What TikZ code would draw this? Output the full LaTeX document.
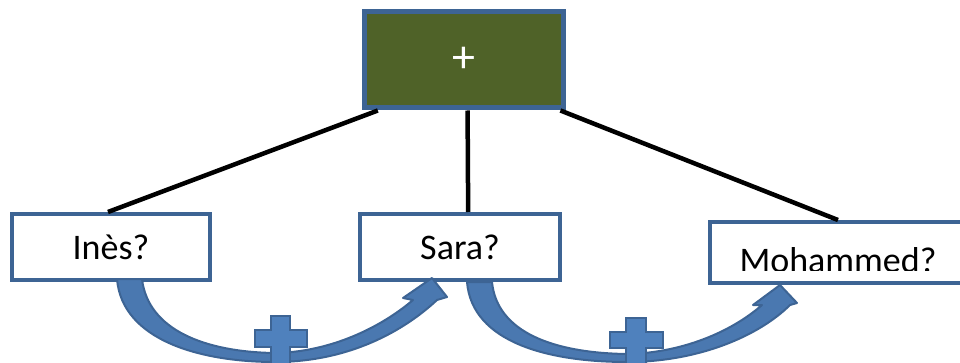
\documentclass[tikz,border=0pt]{standalone}
\usepackage{fontspec}
\setmainfont{Carlito}
\usetikzlibrary{calc}
\definecolor{boxblue}{HTML}{3D6494}
\definecolor{olive}{HTML}{4F6228}
\definecolor{arrowfill}{HTML}{4A78B0}
\definecolor{plusfill}{HTML}{4F81BD}
\tikzset{
  namebox/.style={draw=boxblue, line width=4pt, fill=white, rectangle, inner sep=0pt, font=\fontsize{36}{40}\selectfont},
  topbox/.style={draw=boxblue, line width=5pt, fill=olive, rectangle, inner sep=0pt, text=white, font=\fontsize{46}{50}\selectfont},
  link/.style={draw=black, line width=4.5pt},
  bigarrow/.style={fill=arrowfill, draw=boxblue, line width=2pt, line join=round},
  plusshape/.style={fill=plusfill, draw=boxblue, line width=2.5pt}
}
\begin{document}
\begin{tikzpicture}[x=1pt, y=-1pt]
\useasboundingbox (0,0) rectangle (960,363);
% boxes
\node[topbox, minimum width=199pt, minimum height=96pt] (top) at (463.5,60) {+};
\node[namebox, minimum width=198pt, minimum height=66pt] (ines) at (111,247) {Inès?};
\node[namebox, minimum width=200pt, minimum height=66pt] (sara) at (460,247) {Sara?};
\node[namebox, minimum width=258pt, minimum height=61pt] (moh) at (839,252.5) {};
\begin{scope}
\clip (712,224) rectangle (958,270);
\node[anchor=base, font=\fontsize{36}{40}\selectfont, inner sep=0pt] (mohtext) at (838,272) {Mohammed?};
\end{scope}
% connectors
\draw[link] ($(top.south west)!0.08!(top.south east)$) -- ($(ines.north west)!0.485!(ines.north east)$);
\draw[link] ($(top.south west)!0.52!(top.south east)$) -- ($(sara.north west)!0.54!(sara.north east)$);
\draw[link] ($(top.south west)!0.975!(top.south east)$) -- ($(moh.north west)!0.496!(moh.north east)$);
% curved arrows
\draw[bigarrow] (117,279) .. controls (122,340) and (200,362) .. (275,362)
  .. controls (350,362) and (405,330) .. (437,300) -- (447,297) -- (432,278) -- (403,298) -- (413,300)
  .. controls (380,328) and (330,352) .. (275,353)
  .. controls (205,352) and (148,330) .. (142,279) -- cycle;
\draw[bigarrow] (467,282) .. controls (472,343) and (550,362) .. (627,362)
  .. controls (700,362) and (760,335) .. (790,305) -- (797,303) -- (780,285) -- (753,305) -- (762,305)
  .. controls (730,333) and (680,353) .. (627,354)
  .. controls (555,353) and (497,333) .. (492,282) -- cycle;
% plus signs
\draw[plusshape] (271,316) -- (290,316) -- (290,330) -- (307,330) -- (307,347) -- (290,347) -- (290,365) -- (271,365) -- (271,347) -- (255,347) -- (255,330) -- (271,330) -- cycle;
\draw[plusshape] (626,318) -- (646,318) -- (646,332) -- (663,332) -- (663,348) -- (646,348) -- (646,365) -- (626,365) -- (626,348) -- (610,348) -- (610,332) -- (626,332) -- cycle;
\end{tikzpicture}
\end{document}
